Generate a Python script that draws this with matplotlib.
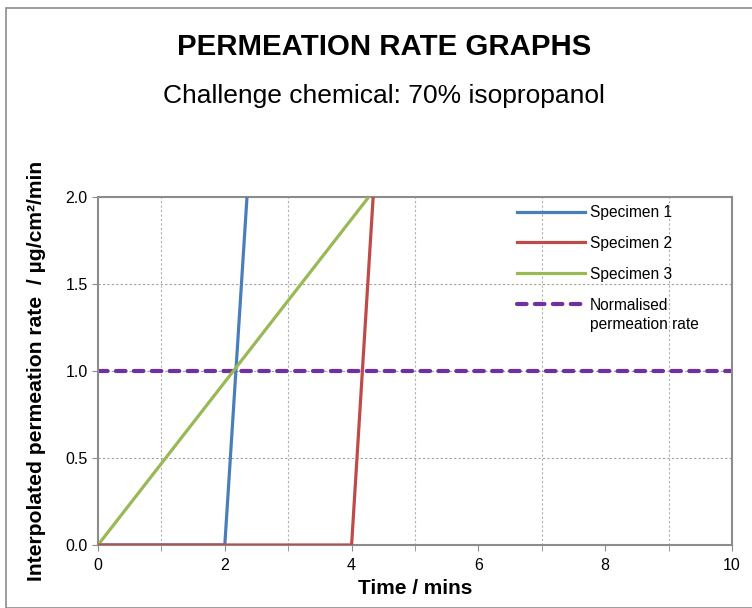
import matplotlib.pyplot as plt
from matplotlib.legend_handler import HandlerLine2D
from matplotlib.patches import Rectangle

plt.rcParams["font.family"] = ["Liberation Sans", "DejaVu Sans"]

# data
spec1_time = [0, 2.0, 2.35]
spec1_rate = [0, 0, 2.0]
spec2_time = [0, 4.0, 4.34]
spec2_rate = [0, 0, 2.0]
spec3_time = [0, 4.27]
spec3_rate = [0, 2.0]
norm_time = [0, 10]
norm_rate = [1.0, 1.0]

x_ticks = [0, 2, 4, 6, 8, 10]
y_ticks = [0.0, 0.5, 1.0, 1.5, 2.0]


class TopLineHandler(HandlerLine2D):
    """Legend line aligned with the first line of a two-line label."""

    def create_artists(self, legend, orig_handle, xdescent, ydescent, width, height,
                       fontsize, trans):
        artists = super().create_artists(legend, orig_handle, xdescent, ydescent,
                                         width, height, fontsize, trans)
        for a in artists:
            a.set_ydata([y + 0.72 * fontsize for y in a.get_ydata()])
        return artists


W, H = 752, 608
fig = plt.figure(figsize=(W / 100, H / 100), dpi=100)

# outer chart border
fig.patches.append(Rectangle((6 / W, 0), 1, 1 - 8 / H, transform=fig.transFigure,
                             fill=False, edgecolor="#8c8c8c", linewidth=1.2))

ax = fig.add_axes([98 / W, (H - 545) / H, (732 - 98) / W, (545 - 197) / H])

ax.plot(spec1_time, spec1_rate, color="#4a7ebb", lw=2.3, label="Specimen 1", zorder=3)
ax.plot(spec2_time, spec2_rate, color="#be4b48", lw=2.3, label="Specimen 2", zorder=4)
ax.plot(spec3_time, spec3_rate, color="#98b954", lw=2.3, label="Specimen 3", zorder=3)
norm_line, = ax.plot(norm_time, norm_rate, color="#7030a0", lw=3.0, ls=(0, (2.3, 2.0)),
                     dash_capstyle="round", label="Normalised\npermeation rate", zorder=2)

ax.set_xlim(0, 10)
ax.set_ylim(0, 2.0)
ax.set_xticks(x_ticks)
ax.set_xticks(range(0, 11), minor=True)
ax.set_yticks(y_ticks)
ax.set_yticklabels([f"{v:.1f}" for v in y_ticks])
ax.tick_params(axis="both", which="both", direction="out", length=4, color="#8c8c8c",
               labelsize=11.5, labelcolor="black")
ax.tick_params(axis="x", pad=5)

ax.grid(True, which="minor", axis="x", color="#b0b0b0", ls=(0, (2, 2)), lw=0.8)
ax.grid(True, which="major", axis="y", color="#a0a0a0", ls=(0, (2, 2)), lw=0.8)
for s in ax.spines.values():
    s.set_color("#8c8c8c")
    s.set_linewidth(1.5)

ax.set_xlabel("Time / mins", fontsize=15, fontweight="bold")
ax.set_ylabel("Interpolated permeation rate  / \u00b5g/cm\u00b2/min", fontsize=15.2,
              fontweight="bold")
ax.xaxis.set_label_coords(0.5, -(579 - 545) / 348)
ax.yaxis.set_label_coords((46 - 98) / 634, 0.5)

fig.text(384 / W, 1 - 55 / H, "PERMEATION RATE GRAPHS", ha="center", va="baseline",
         fontsize=21.2, fontweight="bold")
fig.text(384 / W, 1 - 103 / H, "Challenge chemical: 70% isopropanol", ha="center",
         va="baseline", fontsize=19)

leg = ax.legend(loc="upper left", bbox_to_anchor=(503 / W, 1 - 191 / H),
                bbox_transform=fig.transFigure, frameon=False, fontsize=11.2,
                handlelength=4.4, handletextpad=0.3, labelspacing=1.02,
                handler_map={norm_line: TopLineHandler()})
leg.get_texts()[3].set_linespacing(1.4)

fig.savefig("out.png", dpi=100)
